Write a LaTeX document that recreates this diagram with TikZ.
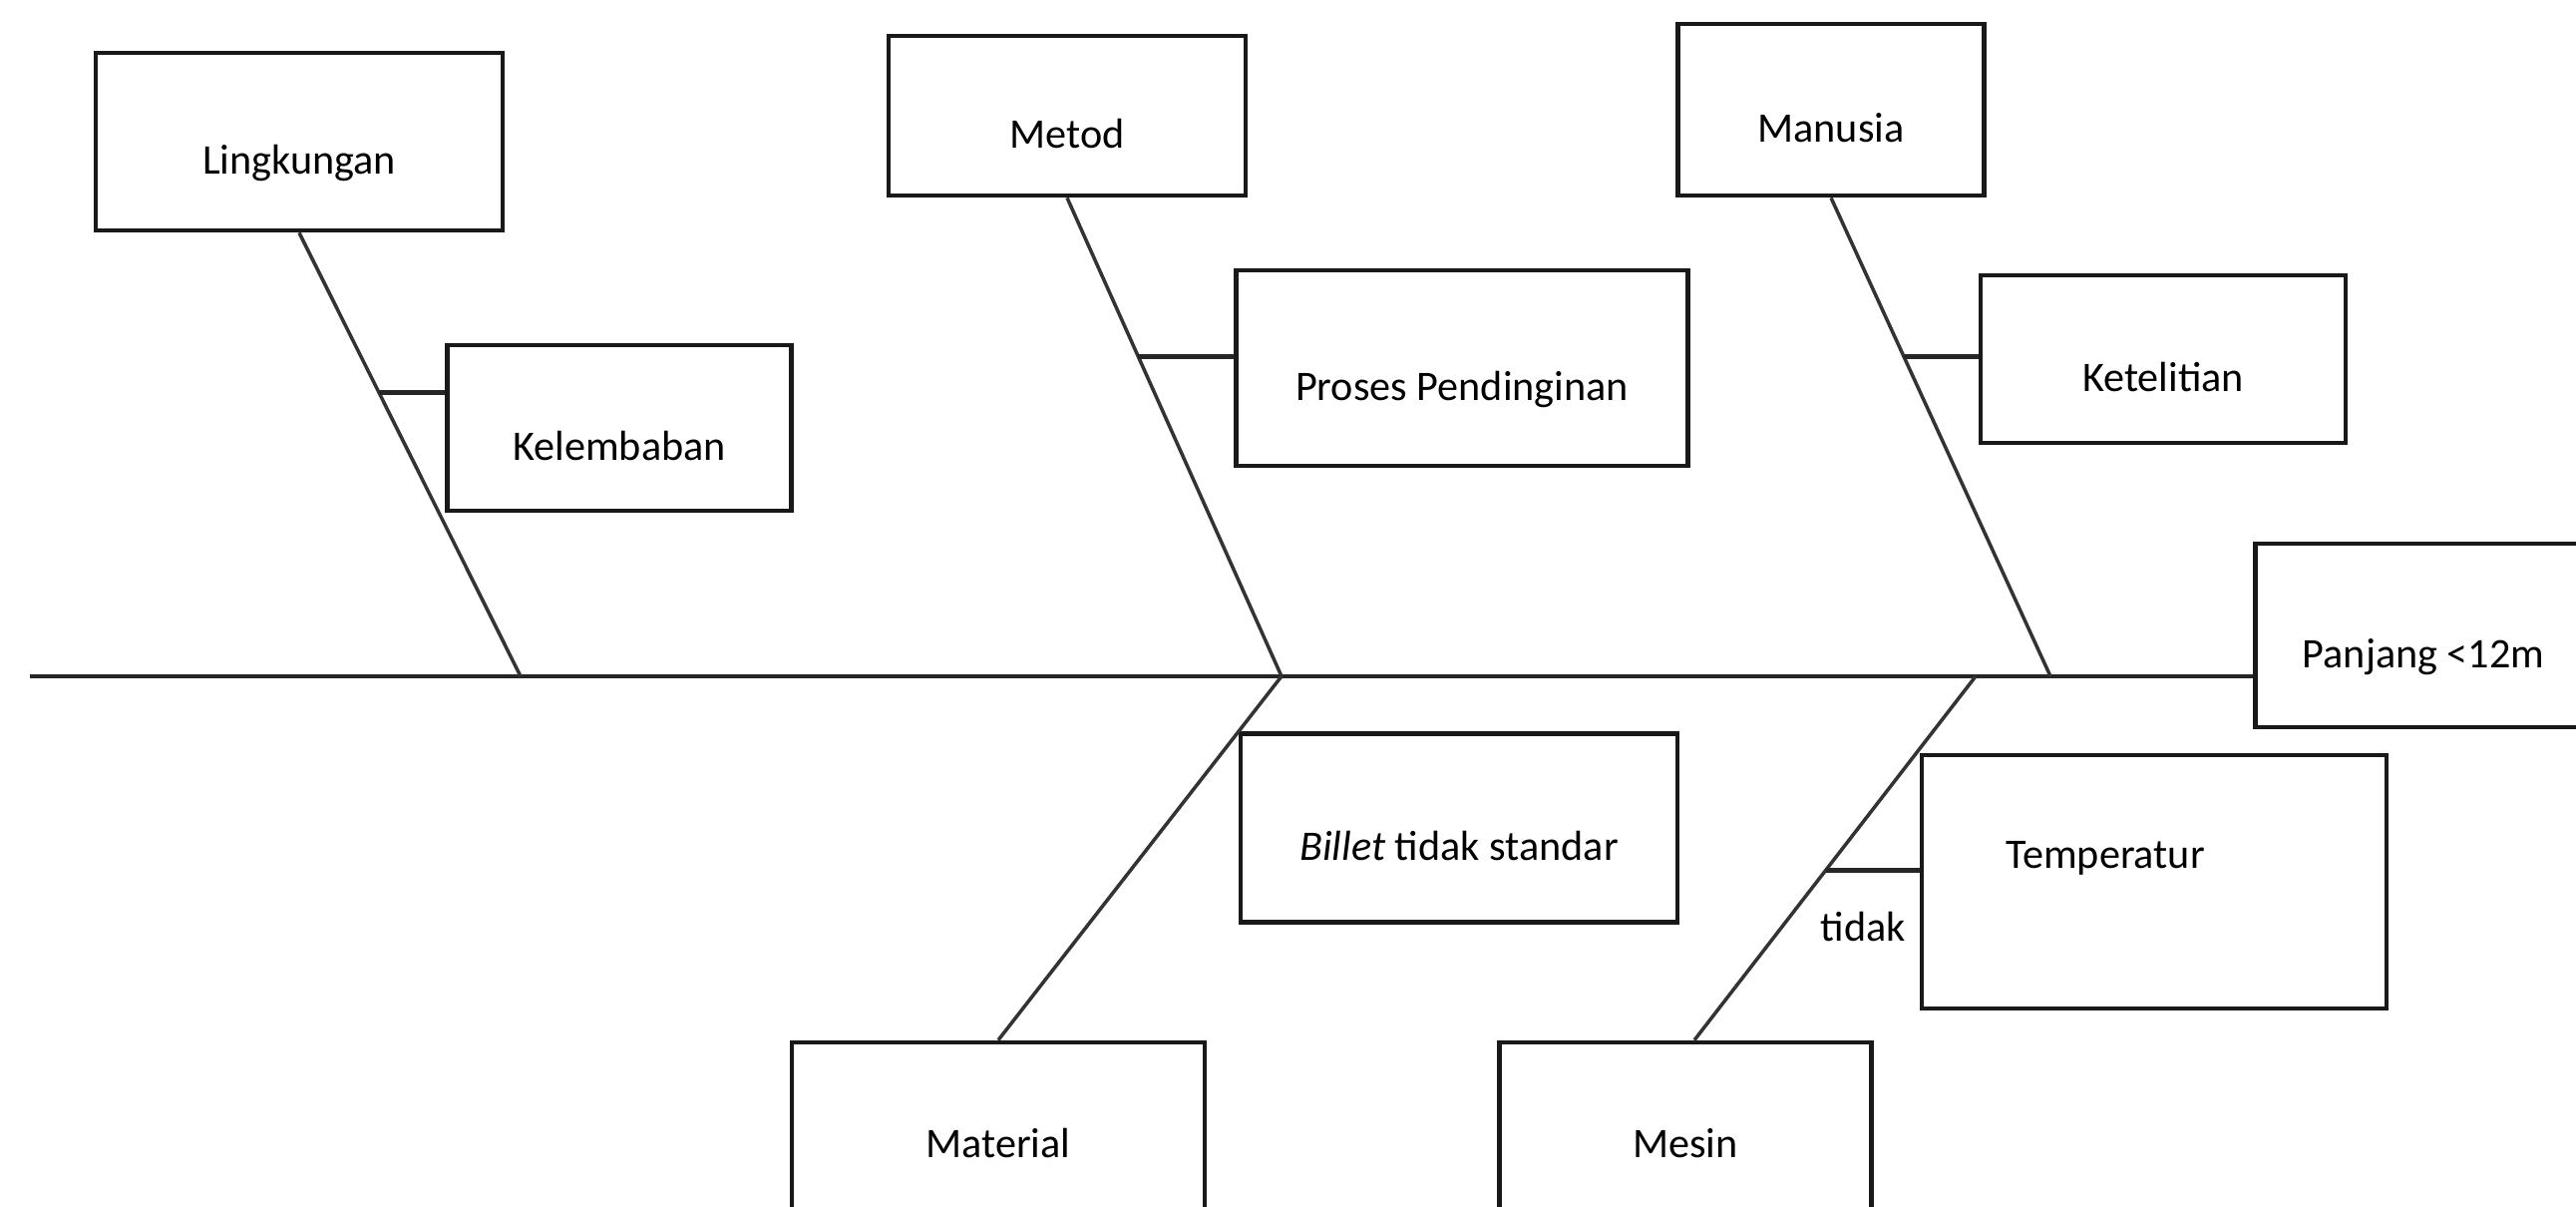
\documentclass[tikz,border=0pt]{standalone}
\usepackage{fontspec}
\setmainfont{Carlito}
\usetikzlibrary{calc}
\begin{document}
\begin{tikzpicture}[x=0.01cm,y=-0.01cm,
  box/.style={draw=black!90,line width=1.3pt,rectangle,inner sep=0pt,
     font=\fontsize{12}{14}\selectfont,text height=0.64cm,text depth=0cm},
  lowbox/.style={box,text height=0.28cm},
  txt/.style={inner sep=0pt,font=\fontsize{12}{14}\selectfont},
  spine/.style={draw=black!85,line width=1.3pt},
  bone/.style={draw=black!80,line width=1pt},
  tick/.style={draw=black!85,line width=1.3pt}]
\useasboundingbox (0,0) rectangle (2583,1210);
% boxes
\node[box,minimum width=4.08cm,minimum height=1.78cm] (ling) at (300,142) {Lingkungan};
\node[box,minimum width=3.45cm,minimum height=1.66cm] (kel) at (621,429) {Kelembaban};
\node[box,minimum width=3.58cm,minimum height=1.60cm] (metod) at (1070,116) {Metod};
\node[box,minimum width=4.53cm,minimum height=1.96cm] (proses) at (1466,369) {Proses Pendinginan};
\node[box,minimum width=3.07cm,minimum height=1.72cm] (manusia) at (1836,110) {Manusia};
\node[box,minimum width=3.66cm,minimum height=1.68cm] (ketel) at (2169,360) {Ketelitian};
\node[box,minimum width=3.37cm,minimum height=1.84cm] (panjang) at (2430,637) {Panjang <12m};
\node[box,minimum width=4.38cm,minimum height=1.89cm] (billet) at (1463,830) {\textit{Billet} tidak standar};
\node[box,minimum width=4.66cm,minimum height=2.54cm] (temp) at (2160,884) {};
\node[txt] (tempT) at (2111,860) {Temperatur};
\node[lowbox,minimum width=4.14cm,minimum height=2.02cm] (material) at (1001,1146) {Material};
\node[lowbox,minimum width=3.73cm,minimum height=2.02cm] (mesin) at (1690,1146) {Mesin};
\node[txt] (tidak) at (1868,929) {tidak};
% spine
\coordinate (s0) at (30,678);
\coordinate (j1) at (522,678);
\coordinate (j2) at (1285,678);
\coordinate (j3) at (1981,678);
\coordinate (j4) at (2056,678);
\draw[spine] (s0) -- (s0 -| panjang.west);
% bones
\draw[bone] (ling.south) -- (j1);
\draw[bone] (metod.south) -- (j2);
\draw[bone] (manusia.south) -- (j4);
\draw[bone] (j2) -- (material.north);
\draw[bone] (j3) -- ([xshift=0.09cm]mesin.north);
% ticks
\coordinate (t1) at ($(ling.south)!0.36!(j1)$);
\draw[tick] (t1) -- (t1 -| kel.west);
\coordinate (t2) at ($(metod.south)!0.332!(j2)$);
\draw[tick] (t2) -- (t2 -| proses.west);
\coordinate (t3) at ($(manusia.south)!0.332!(j4)$);
\draw[tick] (t3) -- (t3 -| ketel.west);
\coordinate (t4) at ($(j3)!0.533!([xshift=0.09cm]mesin.north)$);
\draw[tick] (t4) -- (t4 -| temp.west);
\end{tikzpicture}
\end{document}
